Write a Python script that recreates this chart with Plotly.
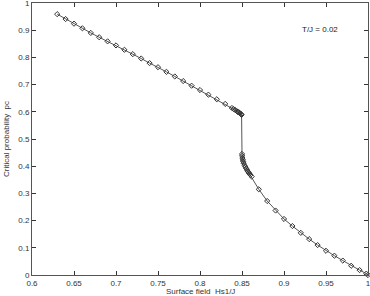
import plotly.graph_objects as go

# upper branch
x_upper = [0.63, 0.64, 0.65, 0.66, 0.67, 0.68, 0.69, 0.70, 0.71, 0.72, 0.73, 0.74, 0.75,
           0.76, 0.77, 0.78, 0.79, 0.80, 0.81, 0.82, 0.83,
           0.838, 0.840, 0.842, 0.844, 0.845, 0.846, 0.847, 0.848, 0.849, 0.8495]
p_upper = [0.959, 0.941, 0.924, 0.907, 0.890, 0.874, 0.859, 0.844, 0.828, 0.812, 0.796, 0.779, 0.764,
           0.747, 0.730, 0.713, 0.696, 0.680, 0.663, 0.646, 0.629,
           0.614, 0.610, 0.606, 0.602, 0.600, 0.598, 0.596, 0.594, 0.591, 0.589]
# lower branch
x_lower = [0.8500, 0.8502, 0.8505, 0.851, 0.8515, 0.852, 0.853, 0.854, 0.855, 0.856, 0.857,
           0.858, 0.859, 0.860, 0.8615, 0.87, 0.88, 0.89, 0.90, 0.91, 0.92, 0.93, 0.94,
           0.95, 0.96, 0.97, 0.98, 0.99, 0.998, 1.0]
p_lower = [0.445, 0.438, 0.430, 0.423, 0.417, 0.411, 0.403, 0.397, 0.392, 0.386, 0.381,
           0.376, 0.372, 0.368, 0.362, 0.315, 0.272, 0.237, 0.206, 0.180, 0.155, 0.132, 0.110,
           0.089, 0.071, 0.053, 0.034, 0.018, 0.005, 0.0]

x_ticks = [0.6, 0.65, 0.7, 0.75, 0.8, 0.85, 0.9, 0.95, 1]
y_ticks = [0, 0.1, 0.2, 0.3, 0.4, 0.5, 0.6, 0.7, 0.8, 0.9, 1]

fig = go.Figure()
fig.add_trace(go.Scatter(
    x=x_upper + x_lower, y=p_upper + p_lower, mode="lines+markers",
    line=dict(color="#555555", width=1),
    marker=dict(symbol="diamond-open", size=4, color="#333333", line=dict(width=1)),
    showlegend=False, cliponaxis=False))

fig.add_annotation(x=0.943, y=0.904, text="T/J = 0.02", showarrow=False,
                   font=dict(size=8, color="#222222"))
fig.add_annotation(xref="paper", yref="paper", x=0.5, y=0, yanchor="top", yshift=-10,
                   text="Surface field  Hs1/J", showarrow=False,
                   font=dict(size=8, color="#333333"))
fig.add_annotation(xref="paper", yref="paper", x=0, y=0.5, xanchor="center", xshift=-26,
                   textangle=-90, text="Critical probability  pc", showarrow=False,
                   font=dict(size=8, color="#333333"))

axis_common = dict(showgrid=False, zeroline=False, showline=True, linecolor="#555555",
                   linewidth=1, mirror="allticks", ticks="inside", ticklen=4,
                   tickcolor="#333333", tickfont=dict(size=8, color="#333333"),
                   automargin=False, ticklabeloverflow="allow")
fig.update_xaxes(range=[0.6, 1], tickvals=x_ticks,
                 ticktext=[f"{v:g}" for v in x_ticks], **axis_common)
fig.update_yaxes(range=[0, 1], tickvals=y_ticks,
                 ticktext=[f"{v:g}" for v in y_ticks], **axis_common)
fig.update_layout(width=370, height=296, margin=dict(l=32, r=2, t=3, b=21),
                  plot_bgcolor="white", paper_bgcolor="white",
                  font=dict(family="Liberation Sans, Arial, sans-serif"))
fig.write_html("out.html", config={"displayModeBar": False},
               post_script="document.body.style.margin='0';document.body.style.overflow='hidden';")
